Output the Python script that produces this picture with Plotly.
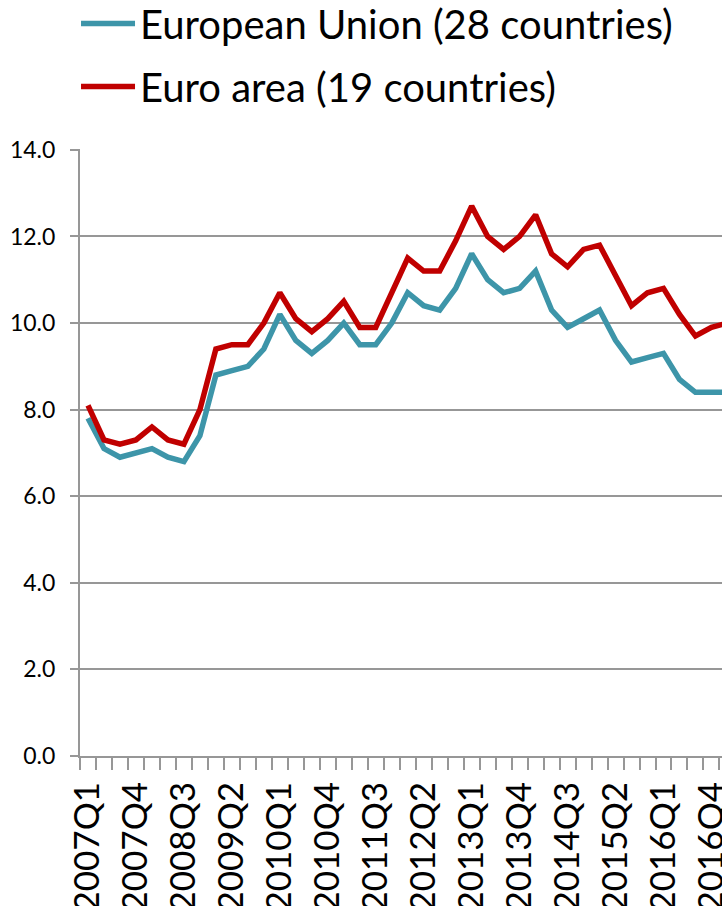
import plotly.graph_objects as go

quarters = [
    "2007Q1", "2007Q2", "2007Q3", "2007Q4", "2008Q1", "2008Q2", "2008Q3", "2008Q4",
    "2009Q1", "2009Q2", "2009Q3", "2009Q4", "2010Q1", "2010Q2", "2010Q3", "2010Q4",
    "2011Q1", "2011Q2", "2011Q3", "2011Q4", "2012Q1", "2012Q2", "2012Q3", "2012Q4",
    "2013Q1", "2013Q2", "2013Q3", "2013Q4", "2014Q1", "2014Q2", "2014Q3", "2014Q4",
    "2015Q1", "2015Q2", "2015Q3", "2015Q4", "2016Q1", "2016Q2", "2016Q3", "2016Q4",
    "2017Q1",
]

eu28 = [7.8, 7.1, 6.9, 7.0, 7.1, 6.9, 6.8, 7.4, 8.8, 8.9, 9.0, 9.4, 10.2, 9.6, 9.3, 9.6,
        10.0, 9.5, 9.5, 10.0, 10.7, 10.4, 10.3, 10.8, 11.6, 11.0, 10.7, 10.8, 11.2, 10.3,
        9.9, 10.1, 10.3, 9.6, 9.1, 9.2, 9.3, 8.7, 8.4, 8.4, 8.4]
ea19 = [8.1, 7.3, 7.2, 7.3, 7.6, 7.3, 7.2, 8.0, 9.4, 9.5, 9.5, 10.0, 10.7, 10.1, 9.8, 10.1,
        10.5, 9.9, 9.9, 10.7, 11.5, 11.2, 11.2, 11.9, 12.7, 12.0, 11.7, 12.0, 12.5, 11.6,
        11.3, 11.7, 11.8, 11.1, 10.4, 10.7, 10.8, 10.2, 9.7, 9.9, 10.0]

y_ticks = [0, 2, 4, 6, 8, 10, 12, 14]

x_idx = list(range(len(quarters)))
label_idx = x_idx[::3]
label_txt = [quarters[i] for i in label_idx]
boundaries = [i - 0.5 for i in range(len(quarters) + 1)]

FONT = "Lato, 'Open Sans', sans-serif"
GRID = "#979797"

fig = go.Figure()
fig.add_trace(go.Scatter(
    x=x_idx, y=eu28, mode="lines", name="European Union (28 countries)",
    line=dict(color="#3D95A9", width=5.5), legendgroup="a"))
fig.add_trace(go.Scatter(
    x=x_idx, y=ea19, mode="lines", name="Euro area (19 countries)",
    line=dict(color="#C00000", width=5.5), legendgroup="b"))

fig.update_layout(
    width=722, height=906,
    margin=dict(l=80, r=0, t=149, b=150, autoexpand=False),
    paper_bgcolor="white", plot_bgcolor="white",
    font=dict(family=FONT, color="black"),
    showlegend=True,
    legend=dict(
        x=-0.0062, y=1.2603, xanchor="left", yanchor="top",
        font=dict(family=FONT, size=40, color="black"),
        traceorder="grouped", tracegroupgap=8,
        itemwidth=54, bgcolor="rgba(0,0,0,0)",
    ),
    xaxis=dict(
        range=[-0.5, 39.66], showgrid=False, zeroline=False, automargin=False,
        showline=True, linecolor=GRID, linewidth=2,
        tickmode="array", tickvals=label_idx, ticktext=label_txt,
        tickangle=-90, ticks="", ticklabelstandoff=10, ticklabeloverflow="allow",
        tickfont=dict(family=FONT, size=35, color="black"),
        minor=dict(tickmode="array", tickvals=boundaries, ticks="outside",
                   ticklen=12, tickwidth=2, tickcolor=GRID, showgrid=False),
    ),
    yaxis=dict(
        range=[0, 14.02], showgrid=True, gridcolor=GRID, gridwidth=2, automargin=False,
        zeroline=False, showline=True, linecolor=GRID, linewidth=2,
        tickmode="array", tickvals=y_ticks, ticktext=[f"{v:.1f}" for v in y_ticks],
        ticks="outside", ticklen=8, tickwidth=2, tickcolor=GRID,
        ticklabelstandoff=10,
        tickfont=dict(family=FONT, size=23, color="black"),
    ),
)

fig.write_html(
    "out.html",
    config={"displayModeBar": False},
    post_script="document.body.style.margin='0';document.body.style.overflow='hidden';",
)
